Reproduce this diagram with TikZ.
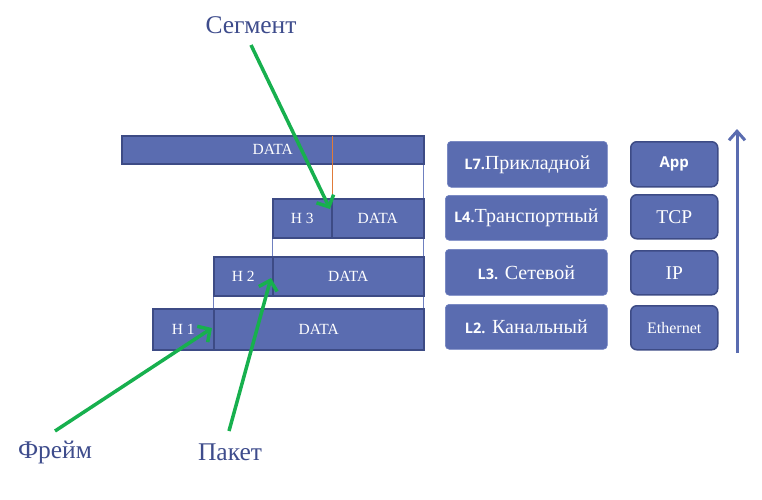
\documentclass[tikz,border=0pt]{standalone}
\usepackage{fontspec}
\setmainfont{Liberation Serif}
\newfontfamily\labsans{Open Sans}
\usetikzlibrary{arrows.meta}
\definecolor{boxblue}{HTML}{5A6CB0}
\definecolor{boxedge}{HTML}{3D4B85}
\definecolor{txtblue}{HTML}{3E4C8C}
\definecolor{arrgreen}{HTML}{17B04E}
\definecolor{thinblue}{HTML}{6F80C0}
\definecolor{orangeline}{HTML}{E07B39}
\newcommand\lnumtxt[1]{{\labsans\bfseries\fontsize{14.5}{16}\selectfont #1}}
\tikzset{
  databox/.style={draw=boxedge, line width=1.5pt, fill=boxblue, inner sep=0pt, anchor=north west, text=white, font=\fontsize{15.5}{17}\selectfont},
  layerbox/.style={draw=thinblue, line width=0.6pt, fill=boxblue, rounded corners=4pt, inner sep=0pt, anchor=north west, text=white, font=\fontsize{20}{23}\selectfont},
  protobox/.style={draw=boxedge, line width=1.5pt, fill=boxblue, rounded corners=6pt, inner sep=0pt, anchor=north west, text=white},
  lbl/.style={text=txtblue, font=\fontsize{25.5}{29}\selectfont, inner sep=0pt},
  greenarrow/.style={draw=arrgreen, line width=3.5pt, -{Straight Barb[length=9pt,width=19pt]}},
}
\begin{document}
\begin{tikzpicture}[x=1pt,y=-1pt]
\useasboundingbox (0,0) rectangle (762,499);
% thin connecting lines
\draw[thinblue, line width=0.8pt] (423,160) -- (423,349);
\draw[thinblue, line width=0.8pt] (272,236) -- (272,257);
\draw[thinblue, line width=0.8pt] (213,294) -- (213,309);
% data boxes
\node[databox, minimum width=302pt, minimum height=28pt] (d0) at (121,135) {DATA};
\node[databox, minimum width=59pt, minimum height=39pt] (h3) at (272,198) {H 3};
\node[databox, minimum width=92pt, minimum height=39pt] (d3) at (331,198) {DATA};
\node[databox, minimum width=59pt, minimum height=39pt] (h2) at (213,256) {H 2};
\node[databox, minimum width=151pt, minimum height=39pt] (d2) at (272,256) {DATA};
\node[databox, minimum width=61pt, minimum height=41pt] (h1) at (152,308) {H 1};
\node[databox, minimum width=210pt, minimum height=41pt] (d1) at (213,308) {DATA};
\coordinate (o1) at (332,136);
\coordinate (o2) at (332,198);
\draw[orangeline, line width=0.8pt] (o1) -- (o2);
% layer boxes
\node[layerbox, minimum width=160pt, minimum height=46pt] (l7) at (447,141) {\lnumtxt{L7.}Прикладной};
\node[layerbox, minimum width=162pt, minimum height=45pt] (l4) at (445,195) {\lnumtxt{L4.}Транспортный};
\node[layerbox, minimum width=162pt, minimum height=46pt] (l3) at (445,249) {\lnumtxt{L3.} Сетевой};
\node[layerbox, minimum width=162pt, minimum height=45pt] (l2) at (445,304) {\lnumtxt{L2.} Канальный};
% protocol boxes
\node[protobox, minimum width=87pt, minimum height=45pt, font=\labsans\bfseries\fontsize{15}{17}\selectfont] (app) at (630,141) {App};
\node[protobox, minimum width=87pt, minimum height=44pt, font=\fontsize{19.5}{21}\selectfont] (tcp) at (630,194) {TCP};
\node[protobox, minimum width=87pt, minimum height=44pt, font=\fontsize{19.5}{21}\selectfont] (ip) at (630,250) {IP};
\node[protobox, minimum width=87pt, minimum height=44pt, font=\fontsize{16}{18}\selectfont] (eth) at (630,305) {Ethernet};
% up arrow
\coordinate (ua) at (737,353);
\coordinate (ub) at (737,129);
\draw[boxblue, line width=3pt, -{Straight Barb[length=9pt,width=16pt,line width=3pt]}] (ua) -- (ub);
% labels
\node[lbl] (seg) at (251,25) {Сегмент};
\node[lbl] (frm) at (55,452) {Фрейм};
\node[lbl] (pak) at (230,452) {Пакет};
\coordinate (segS) at (251,45);
\coordinate (segE) at (330,209);
\coordinate (frmS) at (55,431);
\coordinate (frmE) at (212,328);
\coordinate (pakS) at (229,431);
\coordinate (pakE) at (271,278);
\draw[greenarrow] (segS) -- (segE);
\draw[greenarrow] (frmS) -- (frmE);
\draw[greenarrow] (pakS) -- (pakE);
\end{tikzpicture}
\end{document}
